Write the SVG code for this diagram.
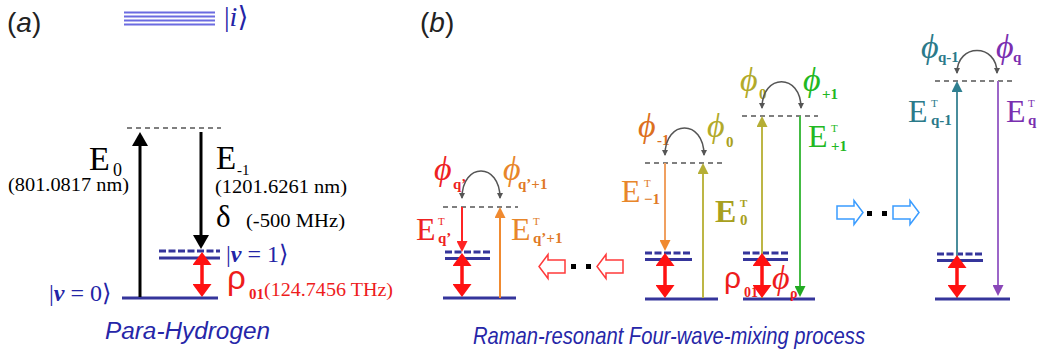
<svg xmlns="http://www.w3.org/2000/svg" width="1037" height="354" viewBox="0 0 1037 354">
<style>
.serif{font-family:"Liberation Serif","DejaVu Serif",serif}
.sans{font-family:"Liberation Sans","DejaVu Sans",sans-serif}
.lvl{stroke:#35359b;stroke-width:3;fill:none}
.lvld{stroke:#35359b;stroke-width:3;stroke-dasharray:7 2.5;fill:none}
.virt{stroke:#555;stroke-width:1.4;stroke-dasharray:5 4;fill:none}
.arc{stroke:#555;stroke-width:1.5;fill:none;marker-start:url(#mArc);marker-end:url(#mArc)}
.ilv{stroke:#6b6be0;stroke-width:1.8}
.blu{fill:#2424a6}
.phi{font-family:"Liberation Serif","DejaVu Serif",serif;font-style:italic;font-size:34px}
.sub{font-family:"Liberation Serif","DejaVu Serif",serif;font-size:15px;font-weight:bold}
.E{font-family:"Liberation Serif","DejaVu Serif",serif;font-size:32px}
.T{font-family:"Liberation Serif","DejaVu Serif",serif;font-size:11px}
.big{stroke:#ff1111;stroke-width:3.5;fill:none;marker-start:url(#mBig);marker-end:url(#mBig)}
.thin{stroke-width:2;fill:none}
.hollowR{fill:#fff;stroke:#ff3a3a;stroke-width:1.5}
.hollowB{fill:#fff;stroke:#3a9cff;stroke-width:1.5}
</style>
<defs>
<marker id="mArc" viewBox="0 0 6 6" refX="5" refY="3" markerWidth="6" markerHeight="6" markerUnits="userSpaceOnUse" orient="auto-start-reverse"><path d="M0,0 L6,3 L0,6 Z" fill="#555"/></marker>
<marker id="mBig" viewBox="0 0 13 19" refX="7" refY="9.5" markerWidth="13" markerHeight="19" markerUnits="userSpaceOnUse" orient="auto-start-reverse"><path d="M0,0 L13,9.5 L0,19 Z" fill="#ff1111"/></marker>
<marker id="mBlk" viewBox="0 0 14 16" refX="8" refY="8" markerWidth="14" markerHeight="16" markerUnits="userSpaceOnUse" orient="auto"><path d="M0,0 L14,8 L0,16 Z" fill="#000"/></marker>
<marker id="mRed" viewBox="0 0 11 11" refX="6" refY="5.5" markerWidth="11" markerHeight="11" markerUnits="userSpaceOnUse" orient="auto"><path d="M0,0 L11,5.5 L0,11 Z" fill="#ff2424"/></marker>
<marker id="mOrg" viewBox="0 0 11 11" refX="6" refY="5.5" markerWidth="11" markerHeight="11" markerUnits="userSpaceOnUse" orient="auto"><path d="M0,0 L11,5.5 L0,11 Z" fill="#f08a30"/></marker>
<marker id="mOlv" viewBox="0 0 11 11" refX="6" refY="5.5" markerWidth="11" markerHeight="11" markerUnits="userSpaceOnUse" orient="auto"><path d="M0,0 L11,5.5 L0,11 Z" fill="#b5ae35"/></marker>
<marker id="mGrn" viewBox="0 0 11 11" refX="6" refY="5.5" markerWidth="11" markerHeight="11" markerUnits="userSpaceOnUse" orient="auto"><path d="M0,0 L11,5.5 L0,11 Z" fill="#22aa22"/></marker>
<marker id="mTeal" viewBox="0 0 11 11" refX="6" refY="5.5" markerWidth="11" markerHeight="11" markerUnits="userSpaceOnUse" orient="auto"><path d="M0,0 L11,5.5 L0,11 Z" fill="#2f7f90"/></marker>
<marker id="mPur" viewBox="0 0 11 11" refX="6" refY="5.5" markerWidth="11" markerHeight="11" markerUnits="userSpaceOnUse" orient="auto"><path d="M0,0 L11,5.5 L0,11 Z" fill="#8a47b8"/></marker>
<path id="blockR" d="M0,-6.5 H17 V-12 L26,0 L17,12 V6.5 H0 Z"/>
</defs>

<rect width="1037" height="354" fill="#fff"/>

<!-- Panel (a) -->
<g id="label-a"><text class="sans" x="7" y="32" font-size="28" fill="#222">(<tspan font-style="italic">a</tspan>)</text></g>

<g id="level-i-a">
<line class="ilv" x1="124" y1="12.5" x2="215" y2="12.5"/>
<line class="ilv" x1="124" y1="16.5" x2="215" y2="16.5"/>
<line class="ilv" x1="124" y1="20.5" x2="215" y2="20.5"/>
<line class="ilv" x1="124" y1="24.5" x2="215" y2="24.5"/>
<text class="serif blu" x="224" y="26" font-size="28">|<tspan font-style="italic">i</tspan>⟩</text>
</g>

<g id="virtual-a"><line class="virt" x1="127" y1="128" x2="221" y2="128"/></g>

<g id="level-v1-a">
<line class="lvld" x1="159" y1="251" x2="220" y2="251"/>
<line class="lvl" x1="159" y1="258" x2="220" y2="258"/>
<text class="serif blu" x="226" y="262" font-size="24">|<tspan font-style="italic" font-weight="bold">v</tspan> = 1⟩</text>
</g>

<g id="level-v0-a">
<line class="lvl" x1="122" y1="298" x2="218" y2="298"/>
<text class="serif blu" x="49" y="301" font-size="24">|<tspan font-style="italic" font-weight="bold">v</tspan> = 0⟩</text>
</g>

<g id="labels-a">
<text class="serif" x="89" y="170" font-size="34">E</text>
<text class="serif" x="113" y="176" font-size="18">0</text>
<text class="serif" x="8" y="191" font-size="18" textLength="121" lengthAdjust="spacingAndGlyphs">(801.0817 nm)</text>
<text class="serif" x="216" y="169" font-size="33">E</text>
<text class="serif" x="237" y="175" font-size="15">-1</text>
<text class="serif" x="215" y="193" font-size="18" textLength="132" lengthAdjust="spacingAndGlyphs">(1201.6261 nm)</text>
<text class="serif" x="216" y="227" font-size="31">δ</text>
<text class="serif" x="246" y="227" font-size="18" textLength="99" lengthAdjust="spacingAndGlyphs">(-500 MHz)</text>
<text class="sans" x="227" y="289" font-size="33" fill="#ee1c1c">ρ</text>
<text class="serif" x="249" y="299" font-size="15" font-weight="bold" fill="#ee1c1c">01</text>
<text class="serif" x="264" y="296" font-size="19" fill="#ee1c1c" textLength="129" lengthAdjust="spacingAndGlyphs">(124.7456 THz)</text>
<text class="sans" x="105" y="339" font-size="23" font-style="italic" fill="#2626a8" textLength="165" lengthAdjust="spacingAndGlyphs">Para-Hydrogen</text>
</g>

<!-- Panel (b) -->
<g id="label-b"><text class="sans" x="420" y="32" font-size="28" fill="#222">(<tspan font-style="italic">b</tspan>)</text></g>

<g id="stage-q1">
<line class="virt" x1="443" y1="207" x2="518" y2="207"/>
<line class="lvld" x1="445" y1="252" x2="490" y2="252"/>
<line class="lvl" x1="445" y1="258.5" x2="490" y2="258.5"/>
<line class="lvl" x1="443" y1="298" x2="516" y2="298"/>
<text class="phi" x="434" y="180" fill="#ee2222">ϕ</text>
<text class="sub" x="453" y="189" fill="#ee2222">q’</text>
<text class="phi" x="503" y="180" fill="#e8862a">ϕ</text>
<text class="sub" x="518" y="189" fill="#e07a26">q’+1</text>
<text class="E" x="416" y="240" fill="#ee2222">E</text>
<text class="T" x="438" y="225" fill="#ee2222">T</text>
<text class="sub" x="438" y="243" fill="#ee2222">q’</text>
<text class="E" x="511" y="240" fill="#e8862a">E</text>
<text class="T" x="533" y="225" fill="#e07a26">T</text>
<text class="sub" x="533" y="243" fill="#e07a26">q’+1</text>
</g>

<g id="stage-m1">
<line class="virt" x1="645" y1="163" x2="722" y2="163"/>
<line class="lvld" x1="645" y1="253" x2="692" y2="253"/>
<line class="lvl" x1="645" y1="259.5" x2="692" y2="259.5"/>
<line class="lvl" x1="645" y1="299" x2="718" y2="299"/>
<text class="phi" x="638" y="137" fill="#dc7020">ϕ</text>
<text class="sub" x="657" y="145" fill="#dc7020">-1</text>
<text class="phi" x="707" y="137" fill="#b2aa2a">ϕ</text>
<text class="sub" x="726" y="147" fill="#a8a020">0</text>
<text class="E" x="621" y="202" fill="#e8862a">E</text>
<text class="T" x="644" y="187" fill="#e07a26">T</text>
<text class="sub" x="644" y="204" fill="#e07a26">−1</text>
<text class="E" x="715" y="222" fill="#a8a020" font-weight="bold">E</text>
<text class="T" x="740" y="207" fill="#a8a020" font-weight="bold">T</text>
<text class="sub" x="740" y="225" fill="#a8a020">0</text>
</g>

<g id="stage-p1">
<line class="virt" x1="742" y1="116" x2="818" y2="116"/>
<line class="lvld" x1="743" y1="253" x2="788" y2="253"/>
<line class="lvl" x1="743" y1="259.5" x2="788" y2="259.5"/>
<line class="lvl" x1="743" y1="299" x2="815" y2="299"/>
<text class="phi" x="740" y="91" fill="#b2aa2a">ϕ</text>
<text class="sub" x="759" y="99" fill="#a8a020">0</text>
<text class="phi" x="803" y="91" fill="#22b822">ϕ</text>
<text class="sub" x="822" y="99" fill="#22b822">+1</text>
<text class="E" x="808" y="147" fill="#22b822">E</text>
<text class="T" x="831" y="132" fill="#22b822">T</text>
<text class="sub" x="831" y="151" fill="#22b822">+1</text>
<text class="sans" x="724" y="288" font-size="30" fill="#ee1c1c">ρ</text>
<text class="serif" x="744" y="297" font-size="14" font-weight="bold" fill="#ee1c1c">01</text>
<text class="phi" x="772" y="289" fill="#ee1c1c" font-size="27">ϕ</text>
<text class="serif" x="790" y="298" font-size="14" font-weight="bold" fill="#ee1c1c">ρ</text>
</g>

<g id="stage-q">
<line class="virt" x1="935" y1="81" x2="1012" y2="81"/>
<line class="lvld" x1="937" y1="254" x2="983" y2="254"/>
<line class="lvl" x1="937" y1="260.5" x2="983" y2="260.5"/>
<line class="lvl" x1="935" y1="299" x2="1010" y2="299"/>
<text class="phi" x="921" y="58" fill="#2b7a8a">ϕ</text>
<text class="sub" x="938" y="62" fill="#2b7a8a">q-1</text>
<text class="phi" x="996" y="58" fill="#7a2fb0">ϕ</text>
<text class="sub" x="1013" y="62" fill="#7a2fb0">q</text>
<text class="E" x="908" y="122" fill="#2b7a8a">E</text>
<text class="T" x="931" y="107" fill="#2b7a8a">T</text>
<text class="sub" x="931" y="125" fill="#2b7a8a">q-1</text>
<text class="E" x="1006" y="122" fill="#7a2fb0">E</text>
<text class="T" x="1028" y="107" fill="#7a2fb0">T</text>
<text class="sub" x="1028" y="125" fill="#7a2fb0">q</text>
</g>

<g id="flow-arrows">
<use href="#blockR" class="hollowR" transform="translate(565,266.5) scale(-1,1)"/>
<rect x="571" y="264" width="5" height="5" fill="#000"/>
<rect x="586" y="264" width="5" height="5" fill="#000"/>
<use href="#blockR" class="hollowR" transform="translate(623,266.5) scale(-1,1)"/>
<use href="#blockR" class="hollowB" transform="translate(837,212.5)"/>
<rect x="867" y="211" width="5" height="5" fill="#000"/>
<rect x="882" y="211" width="5" height="5" fill="#000"/>
<use href="#blockR" class="hollowB" transform="translate(893,212.5)"/>
</g>

<g id="title-b"><text class="sans" x="473" y="344" font-size="24" font-style="italic" fill="#2626a8" textLength="392" lengthAdjust="spacingAndGlyphs">Raman-resonant Four-wave-mixing process</text></g>

<g id="connectors">
<line x1="140" y1="297" x2="140" y2="138" stroke="#000" stroke-width="3" marker-end="url(#mBlk)"/>
<line x1="201" y1="132" x2="201" y2="243" stroke="#000" stroke-width="3" marker-end="url(#mBlk)"/>
<line class="big" x1="202" y1="258" x2="202" y2="291"/>
<line class="thin" x1="462" y1="207" x2="462" y2="247" stroke="#ff2424" marker-end="url(#mRed)"/>
<line class="thin" x1="500" y1="298" x2="500" y2="212" stroke="#f08a30" marker-end="url(#mOrg)"/>
<line class="big" x1="462" y1="259" x2="462" y2="291"/>
<path class="arc" d="M462,198 C462,162 500,162 500,198"/>
<line class="thin" x1="665" y1="163" x2="665" y2="246" stroke="#f0a060" marker-end="url(#mOrg)"/>
<line class="thin" x1="703" y1="298" x2="703" y2="168" stroke="#bdb645" marker-end="url(#mOlv)"/>
<line class="big" x1="665" y1="259" x2="665" y2="292"/>
<path class="arc" d="M665,155 C665,119 704,119 704,155"/>
<line class="thin" x1="762" y1="298" x2="762" y2="121" stroke="#bdb645" marker-end="url(#mOlv)"/>
<line class="thin" x1="800" y1="116" x2="800" y2="292" stroke="#44bb44" marker-end="url(#mGrn)"/>
<line class="big" x1="762" y1="259" x2="762" y2="292"/>
<path class="arc" d="M762,108 C762,73 801,73 801,108"/>
<line class="thin" x1="957" y1="298" x2="957" y2="86" stroke="#4a8d9c" marker-end="url(#mTeal)"/>
<line class="thin" x1="998" y1="81" x2="998" y2="291" stroke="#9c66c8" marker-end="url(#mPur)"/>
<line class="big" x1="957" y1="261" x2="957" y2="292"/>
<path class="arc" d="M957,73 C957,43 997,43 997,73"/>
</g>
</svg>
